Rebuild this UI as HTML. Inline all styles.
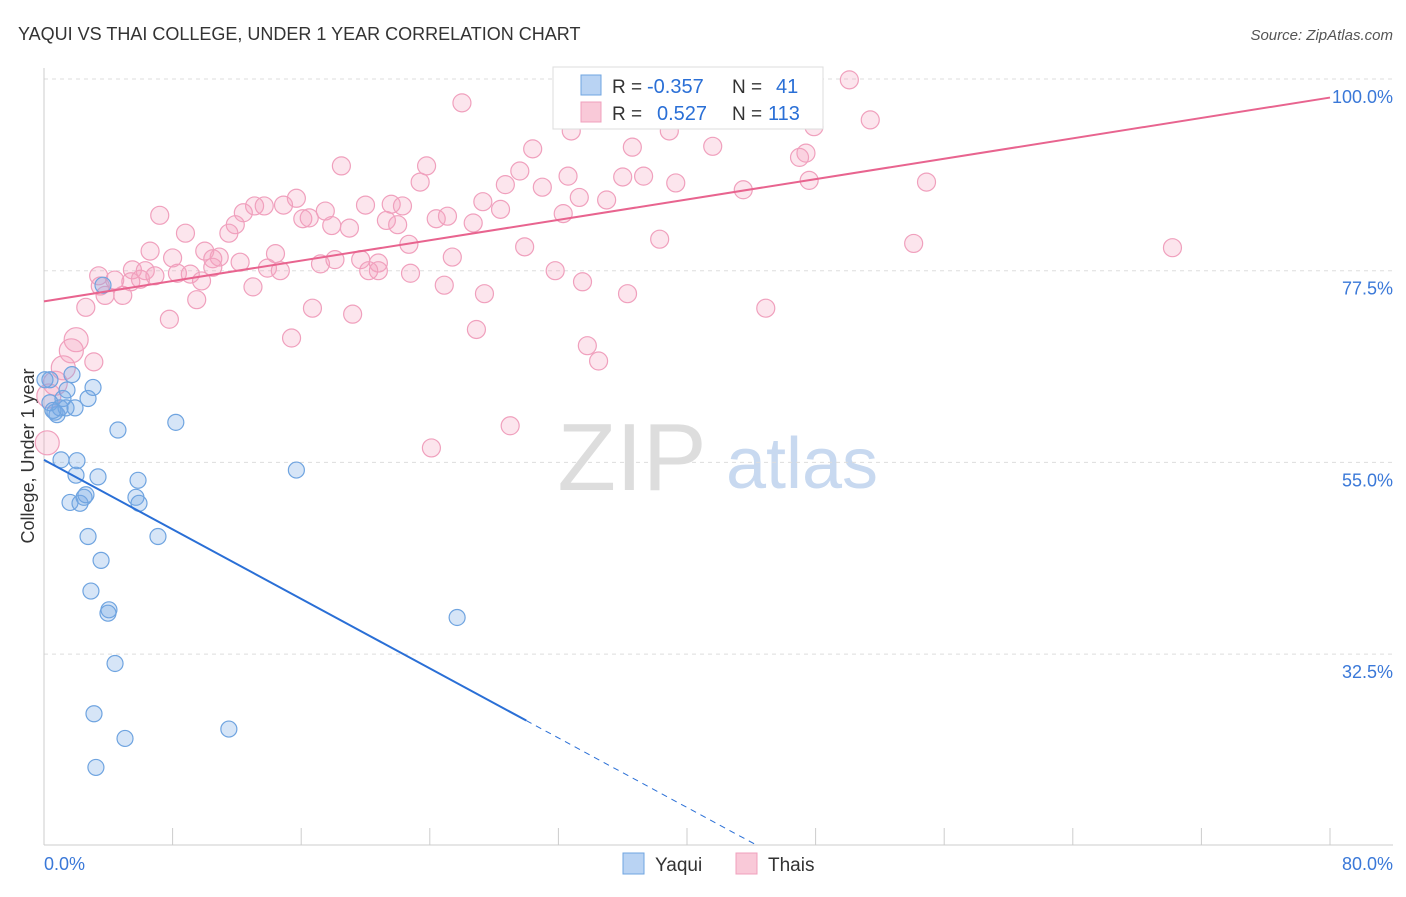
<!DOCTYPE html>
<html><head><meta charset="utf-8"><style>
body{margin:0;background:#fff;font-family:"Liberation Sans",sans-serif}
svg text{font-family:"Liberation Sans",sans-serif}
</style></head><body>
<svg id="c" width="1406" height="892" xmlns="http://www.w3.org/2000/svg">
<text x="18" y="40" font-size="18" fill="#333">YAQUI VS THAI COLLEGE, UNDER 1 YEAR CORRELATION CHART</text>
<text x="1393" y="40" font-size="15" fill="#555" text-anchor="end" font-style="italic">Source: ZipAtlas.com</text>
<text x="34" y="456" font-size="18" fill="#333" text-anchor="middle" transform="rotate(-90 34 456)">College, Under 1 year</text>
<g><text x="632" y="490" font-size="96" fill="#ddd" text-anchor="middle" font-family="Liberation Serif">ZIP</text><text x="802" y="488" font-size="72" fill="#c8d9f0" text-anchor="middle">atlas</text></g>
<g id="grid"></g><g id="axes"></g><g id="pts"></g><g id="lines"></g>
<g>
<rect x="553" y="67" width="270" height="62" fill="#fff" stroke="#ddd"/>
<rect x="581" y="75" width="20" height="20" fill="#b9d3f3" stroke="#6fa4e0"/>
<rect x="581" y="102" width="20" height="20" fill="#f9c9d8" stroke="#f0a0bd"/>
<text x="612" y="93" font-size="19" fill="#333">R =</text><text x="647" y="93" font-size="20" fill="#2a6fd6">-0.357</text>
<text x="732" y="93" font-size="19" fill="#333">N =</text><text x="776" y="93" font-size="20" fill="#2a6fd6">41</text>
<text x="612" y="120" font-size="19" fill="#333">R =</text><text x="657" y="120" font-size="20" fill="#2a6fd6">0.527</text>
<text x="732" y="120" font-size="19" fill="#333">N =</text><text x="768" y="120" font-size="20" fill="#2a6fd6">113</text>
</g>
<g>
<rect x="623" y="853" width="21" height="21" fill="#b9d3f3" stroke="#6fa4e0"/><text x="655" y="871" font-size="19" fill="#333">Yaqui</text>
<rect x="736" y="853" width="21" height="21" fill="#f9c9d8" stroke="#f0a0bd"/><text x="768" y="871" font-size="19" fill="#333">Thais</text>
</g>
</svg>
<script>
const yTicks=[100,77.5,55,32.5];
const yTickLabels=["100.0%","77.5%","55.0%","32.5%"];
const xTickLabels=["0.0%","80.0%"];
const yaquiX=[0.37,0.68,0.81,1.0,1.18,1.43,1.74,1.37,1.93,2.74,3.05,1.06,2.05,1.99,3.36,4.6,8.2,1.62,2.24,2.49,2.61,5.72,5.85,5.91,2.74,3.55,7.09,2.92,4.04,3.98,4.42,3.11,5.04,3.23,11.5,15.7,25.7,3.67,0.37,0.06,0.56];
const yaquiY=[64.7,60.9,60.6,61.4,62.5,63.5,65.3,61.4,61.4,62.5,63.8,55.3,55.2,53.5,53.3,58.8,59.7,50.3,50.2,50.9,51.2,50.9,52.9,50.2,46.3,43.5,46.3,39.9,37.7,37.3,31.4,25.5,22.6,19.2,23.7,54.1,36.8,75.8,62.0,64.7,61.1];
const thaiX=[50.1,26.0,51.4,47.9,32.8,38.9,30.4,41.6,36.6,47.4,47.0,18.5,23.8,29.6,23.4,32.6,36.0,37.3,28.7,31.0,39.3,47.6,54.9,43.5,15.7,27.3,33.3,35.0,13.1,13.7,14.9,17.5,20.0,21.6,22.3,28.4,32.3,7.2,12.4,16.1,16.5,24.4,25.1,21.3,26.7,22.0,11.9,17.9,19.0,8.8,11.5,22.7,29.9,38.3,54.1,70.2,6.6,10.0,14.4,8.0,10.9,10.5,12.2,13.9,14.7,17.2,18.1,19.7,20.8,25.4,5.5,6.3,8.3,9.1,10.5,3.4,4.4,5.4,6.0,6.9,9.8,20.2,20.8,22.8,31.8,24.9,33.5,36.3,13.0,3.8,4.9,2.6,9.5,16.7,44.9,7.8,19.2,26.9,15.4,2.0,1.7,3.1,33.8,34.5,1.2,0.7,0.3,0.2,29.0,24.1,27.4,3.5];
const thaiY=[99.9,97.2,95.2,94.4,93.9,93.9,91.8,92.1,92.0,91.3,90.8,89.8,89.8,89.2,87.9,88.6,88.5,88.6,87.6,87.3,87.8,88.1,87.9,87.0,86.0,85.6,86.1,85.8,85.1,85.1,85.2,84.5,85.2,85.3,85.1,84.7,84.2,84.0,84.3,83.6,83.7,83.6,83.9,83.4,83.1,82.9,82.9,82.8,82.5,81.9,81.9,80.6,80.3,81.2,80.7,80.2,79.8,79.8,79.5,79.0,79.1,78.9,78.5,77.8,77.5,78.3,78.8,78.8,78.4,79.1,77.6,77.5,77.2,77.1,77.9,76.9,76.4,76.2,76.5,76.9,76.3,77.5,77.5,77.2,77.5,75.8,76.2,74.8,75.6,74.6,74.6,73.2,74.1,73.1,73.1,71.8,72.4,70.6,69.6,69.4,68.1,66.8,68.7,66.9,66.1,64.3,62.8,57.3,59.3,56.7,74.8,75.7];
const blueFit=[55.3,-1.02];
const pinkFit=[73.9,0.299];
const X=v=>44+v*(1286/80), Y=v=>79+(100-v)*(191.7/22.5);
const NS="http://www.w3.org/2000/svg";
function mk(t,a,p){const e=document.createElementNS(NS,t);for(const k in a)e.setAttribute(k,a[k]);p.appendChild(e);return e;}
const grid=document.getElementById('grid'),axes=document.getElementById('axes'),pts=document.getElementById('pts'),lines=document.getElementById('lines');
yTicks.forEach((t,i)=>{
 const l=mk('line',{x1:44,x2:1393,y1:Y(t),y2:Y(t),stroke:'#ddd','stroke-dasharray':'4,4'},grid);
 
 
 const tx=mk('text',{x:1393,y:Y(t)+24,'font-size':18,fill:'#3a78d8','text-anchor':'end'},axes);tx.textContent=yTickLabels[i];
 
 
});
mk('line',{x1:44,x2:44,y1:68,y2:845,stroke:'#ccc'},axes);
mk('line',{x1:44,x2:1393,y1:845,y2:845,stroke:'#ccc'},axes);
for(let i=0;i<=10;i++){const t=mk('line',{x1:X(i*8),x2:X(i*8),y1:828,y2:845,stroke:'#ccc'},axes);
 
 }
[[0,'start'],[80,'end']].forEach((d,i)=>{const t=mk('text',{x:i?1393:44,y:870,'font-size':18,fill:'#3a78d8','text-anchor':d[1]},axes);t.textContent=xTickLabels[i];
 
 });
thaiX.forEach((x,i)=>{const r=x<2.5?12:9;const c=mk('circle',{cx:X(x),cy:Y(thaiY[i]),r:r,fill:'rgba(244,160,190,0.28)',stroke:'#f0a0bd','stroke-width':1.2},pts);
 
 });
yaquiX.forEach((x,i)=>{const c=mk('circle',{cx:X(x),cy:Y(yaquiY[i]),r:8,fill:'rgba(120,170,230,0.3)',stroke:'#6fa4e0','stroke-width':1.2},pts);
 
 });
const bY=x=>blueFit[0]+blueFit[1]*x;
const b1=mk('line',{x1:X(0),y1:Y(bY(0)),x2:X(30),y2:Y(bY(30)),stroke:'#2a6fd6','stroke-width':2},lines);


const xEnd=(10.1-blueFit[0])/blueFit[1];
const b2=mk('line',{x1:X(30),y1:Y(bY(30)),x2:X(xEnd),y2:Y(bY(xEnd)),stroke:'#2a6fd6','stroke-width':1,'stroke-dasharray':'6,5'},lines);


const pY=x=>pinkFit[0]+pinkFit[1]*x;
const p1=mk('line',{x1:X(0),y1:Y(pY(0)),x2:X(80),y2:Y(pY(80)),stroke:'#e8648f','stroke-width':2},lines);


</script>
</body></html>
